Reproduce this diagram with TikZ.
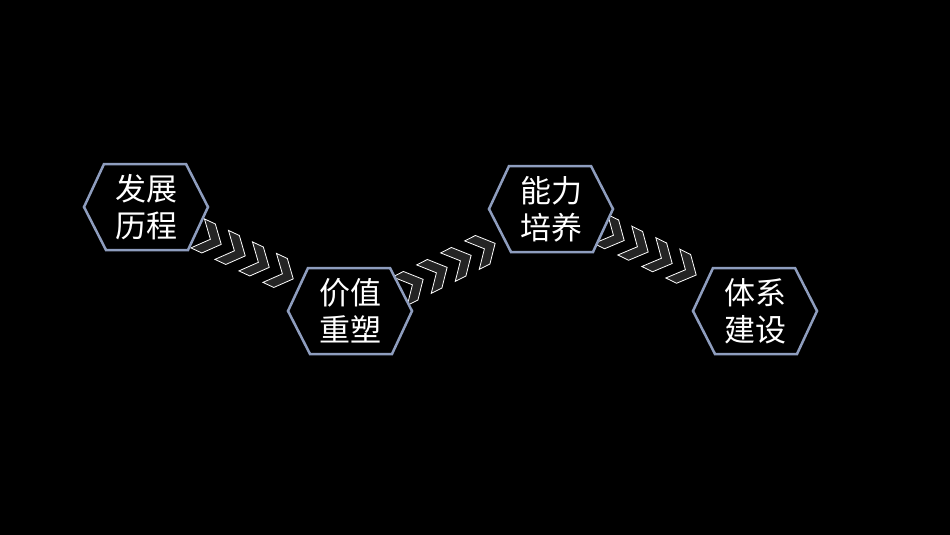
\documentclass[tikz,border=0pt]{standalone}
\usepackage{fontspec}
\newfontfamily\cjk{Noto Sans CJK SC}
\usetikzlibrary{calc}
\begin{document}
\begin{tikzpicture}[x=1pt,y=-1pt,
  hexbox/.style={draw=hexline,line width=2.5pt,fill=black},
  lbl/.style={text=white,font=\cjk\fontsize{31}{37}\selectfont,align=center},
  chev/.style={draw=white,line width=0.8pt,fill=chevfill,line join=miter}]
\definecolor{hexline}{HTML}{8E9DBE}
\definecolor{chevfill}{HTML}{242424}
\fill[black] (0,0) rectangle (950,535);
\useasboundingbox (0,0) rectangle (950,535);
\newcommand{\hexat}[3]{%
  \draw[hexbox] ($(#1)+(-62,0)$) -- ($(#1)+(-42,-43)$) -- ($(#1)+(40,-43)$) -- ($(#1)+(62,0)$) -- ($(#1)+(42,43)$) -- ($(#1)+(-40,43)$) -- cycle;
  \node[lbl] (#2) at (#1) {#3};}
\newcommand{\chevat}[2]{%
  \draw[chev,shift={(#1)},rotate=#2] (-6,-16) -- (8,0) -- (-6,16) -- (-18,16) -- (-4,0) -- (-18,-16) -- cycle;}
\coordinate (c1) at (146,207);
\coordinate (c2) at (350,311);
\coordinate (c3) at (551,209);
\coordinate (c4) at (755,311);
\foreach \i in {0,1,2,3}{
  \chevat{$(214,241)+\i*(24,11.5)$}{-25}
  \chevat{$(416,283)+\i*(24,-12)$}{27}
  \chevat{$(617,237)+\i*(24,11.5)$}{-26}
}
\hexat{c1}{h1}{发展\\历程}
\hexat{c2}{h2}{价值\\重塑}
\hexat{c3}{h3}{能力\\培养}
\hexat{c4}{h4}{体系\\建设}
\end{tikzpicture}
\end{document}
